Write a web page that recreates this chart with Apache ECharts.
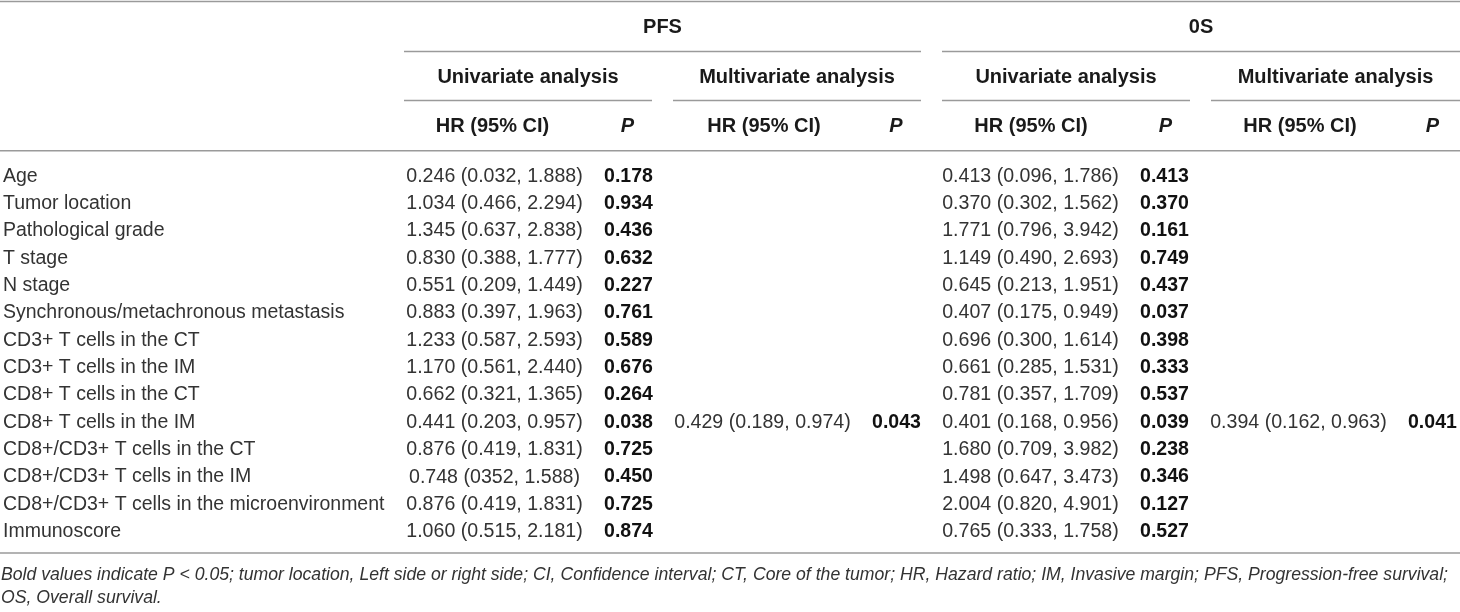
<!DOCTYPE html>
<html>
<head>
<meta charset="utf-8">
<script src="https://cdn.jsdelivr.net/npm/echarts@6/dist/echarts.min.js"></script>
<style>
html,body{margin:0;padding:0;background:#fff;}
#chart{width:1460px;height:612px;}
</style>
</head>
<body>
<div id="chart"></div>
<script>
// ---- Data ----
const rowLabels = [
  'Age', 'Tumor location', 'Pathological grade', 'T stage', 'N stage',
  'Synchronous/metachronous metastasis', 'CD3+ T cells in the CT', 'CD3+ T cells in the IM',
  'CD8+ T cells in the CT', 'CD8+ T cells in the IM', 'CD8+/CD3+ T cells in the CT',
  'CD8+/CD3+ T cells in the IM', 'CD8+/CD3+ T cells in the microenvironment', 'Immunoscore'
];
const pfsUniHR = [
  '0.246 (0.032, 1.888)', '1.034 (0.466, 2.294)', '1.345 (0.637, 2.838)', '0.830 (0.388, 1.777)',
  '0.551 (0.209, 1.449)', '0.883 (0.397, 1.963)', '1.233 (0.587, 2.593)', '1.170 (0.561, 2.440)',
  '0.662 (0.321, 1.365)', '0.441 (0.203, 0.957)', '0.876 (0.419, 1.831)', '0.748 (0352, 1.588)',
  '0.876 (0.419, 1.831)', '1.060 (0.515, 2.181)'
];
const pfsUniP = ['0.178','0.934','0.436','0.632','0.227','0.761','0.589','0.676','0.264','0.038','0.725','0.450','0.725','0.874'];
const pfsMultiHR = ['','','','','','','','','','0.429 (0.189, 0.974)','','','',''];
const pfsMultiP = ['','','','','','','','','','0.043','','','',''];
const osUniHR = [
  '0.413 (0.096, 1.786)', '0.370 (0.302, 1.562)', '1.771 (0.796, 3.942)', '1.149 (0.490, 2.693)',
  '0.645 (0.213, 1.951)', '0.407 (0.175, 0.949)', '0.696 (0.300, 1.614)', '0.661 (0.285, 1.531)',
  '0.781 (0.357, 1.709)', '0.401 (0.168, 0.956)', '1.680 (0.709, 3.982)', '1.498 (0.647, 3.473)',
  '2.004 (0.820, 4.901)', '0.765 (0.333, 1.758)'
];
const osUniP = ['0.413','0.370','0.161','0.749','0.437','0.037','0.398','0.333','0.537','0.039','0.238','0.346','0.127','0.527'];
const osMultiHR = ['','','','','','','','','','0.394 (0.162, 0.963)','','','',''];
const osMultiP = ['','','','','','','','','','0.041','','','',''];

const topHeaders = ['PFS', '0S'];
const groupHeaders = ['Univariate analysis', 'Multivariate analysis', 'Univariate analysis', 'Multivariate analysis'];
const colHeaders = ['HR (95% CI)', 'P', 'HR (95% CI)', 'P', 'HR (95% CI)', 'P', 'HR (95% CI)', 'P'];
const footnoteLines = [
  'Bold values indicate P < 0.05; tumor location, Left side or right side; CI, Confidence interval; CT, Core of the tumor; HR, Hazard ratio; IM, Invasive margin; PFS, Progression-free survival;',
  'OS, Overall survival.'
];

// ---- Build cells ----
const columns = [pfsUniHR, pfsUniP, pfsMultiHR, pfsMultiP, osUniHR, osUniP, osMultiHR, osMultiP];
const cells = [];
columns.forEach((col, ci) => {
  col.forEach((txt, ri) => {
    if (txt) cells.push({ value: [ci, ri], text: txt, isP: ci % 2 === 1 });
  });
});

const FONT = '"Liberation Sans", Arial, Helvetica, sans-serif';
const LINE = '#9a9a9a';
const W = 1460;

const chart = echarts.init(document.getElementById('chart'), null, { renderer: 'canvas' });

// layout constants
const hLine = (x1, x2, y) => ({
  type: 'line', silent: true,
  shape: { x1: x1, y1: y, x2: x2, y2: y },
  style: { stroke: LINE, lineWidth: 1.6 }
});
const hText = (txt, x, y, opts) => Object.assign({
  type: 'text', silent: true, x: x, y: y,
  style: Object.assign({
    text: txt, align: 'center', verticalAlign: 'middle',
    fontFamily: FONT, fontSize: 20, fontWeight: 'bold', fill: '#1a1a1a'
  }, opts || {})
});

const groupSpans = [[404, 652], [673, 921], [942, 1190], [1211, 1460]];
const topSpans = [[404, 921], [942, 1460]];
const colCenters = [492.5, 627.5, 764, 896, 1031, 1165.5, 1300, 1432.5];

const graphics = [];
graphics.push(hLine(0, W, 1.5));
topSpans.forEach((s, i) => {
  graphics.push(hText(topHeaders[i], (s[0] + s[1]) / 2, 27));
  graphics.push(hLine(s[0], s[1], 51.5));
});
groupSpans.forEach((s, i) => {
  graphics.push(hText(groupHeaders[i], (s[0] + s[1]) / 2, 77));
  graphics.push(hLine(s[0], s[1], 100.5));
});
colHeaders.forEach((h, i) => {
  graphics.push(hText(h, colCenters[i], 126, h === 'P' ? { fontStyle: 'italic' } : {}));
});
graphics.push(hLine(0, W, 150.7));
graphics.push(hLine(0, W, 553));
footnoteLines.forEach((t, i) => {
  graphics.push({
    type: 'text', silent: true, x: 1, y: 575 + i * 23,
    style: { text: t, align: 'left', verticalAlign: 'middle', fontFamily: FONT,
             fontSize: 17.65, fontStyle: 'italic', fill: '#333' }
  });
});

// column band: 134.25 px per column starting at x = 425.5
const BAND = 134.25;
const GRID_LEFT = 425.5;
const option = {
  animation: false,
  backgroundColor: '#fff',
  grid: { left: GRID_LEFT, right: 0, top: 162.5, height: 383, containLabel: false },
  xAxis: {
    type: 'value',
    min: -0.5,
    max: -0.5 + (W - GRID_LEFT) / BAND,
    show: false
  },
  yAxis: {
    type: 'category',
    data: rowLabels,
    inverse: true,
    axisLine: { show: false },
    axisTick: { show: false },
    splitLine: { show: false },
    axisLabel: {
      align: 'left', margin: GRID_LEFT - 1, fontSize: 19.5, color: '#333', fontFamily: FONT
    }
  },
  series: [{
    type: 'custom',
    coordinateSystem: 'cartesian2d',
    silent: true,
    clip: false,
    encode: { x: 0, y: 1 },
    data: cells.map(c => c.value),
    renderItem: function (params, api) {
      const c = cells[params.dataIndex];
      const p = api.coord([api.value(0), api.value(1)]);
      return {
        type: 'text',
        x: p[0], y: p[1],
        style: {
          text: c.text, align: 'center', verticalAlign: 'middle',
          fontFamily: FONT,
          fontSize: c.isP ? 19.5 : 19.6,
          fontWeight: c.isP ? 'bold' : 'normal',
          fill: c.isP ? '#111' : '#333'
        }
      };
    }
  }],
  graphic: graphics
};
chart.setOption(option);
</script>
</body>
</html>
